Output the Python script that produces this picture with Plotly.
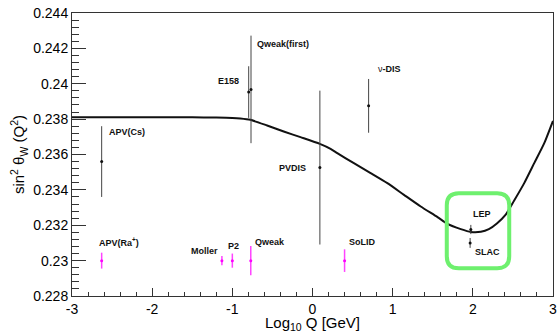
import plotly.graph_objects as go

# ---- running curve ----
curve_x = [-3.0, -2.5, -2.0, -1.5, -1.2, -1.0, -0.9, -0.775, -0.566, -0.359, -0.15,
           0.091, 0.225, 0.309, 0.516, 0.725, 0.934, 1.141, 1.35, 1.559, 1.684,
           1.85, 1.975, 2.1, 2.2, 2.3, 2.41, 2.516, 2.641, 2.766, 2.891, 3.0]
curve_y = [0.2381, 0.2381, 0.2381, 0.2381, 0.23809, 0.23807, 0.23804, 0.23796, 0.23764,
           0.23730, 0.23698, 0.23660, 0.23632, 0.23608, 0.23551, 0.23495, 0.23438,
           0.23372, 0.23306, 0.23246, 0.23208, 0.23178, 0.23162, 0.23163, 0.23178,
           0.23210, 0.23260, 0.23340, 0.23438, 0.23551, 0.23664, 0.23790]

# ---- existing measurements ----
meas_names = ["APV(Cs)", "E158", "Qweak(first)", "PVDIS", "ν-DIS", "LEP", "SLAC"]
meas_x = [-2.63, -0.796, -0.767, 0.092, 0.70, 1.975, 1.966]
meas_y = [0.2356, 0.23953, 0.23968, 0.23526, 0.23875, 0.23176, 0.23100]
meas_err = [0.0020, 0.00146, 0.00304, 0.00435, 0.00152, 0.00026, 0.00028]

# ---- future measurements ----
fut_names = ["APV(Ra+)", "Moller", "P2", "Qweak", "SoLID"]
fut_x = [-2.63, -1.13, -1.0, -0.77, 0.40]
fut_y = [0.23, 0.23, 0.23, 0.23, 0.23]
fut_err = [0.00045, 0.00026, 0.0004, 0.00083, 0.00064]

# ---- ticks ----
y_tickvals = [0.228, 0.230, 0.232, 0.234, 0.236, 0.238, 0.240, 0.242, 0.244]
y_ticktext = ["0.228", "0.23", "0.232", "0.234", "0.236", "0.238", "0.24", "0.242", "0.244"]
x_tickvals = [-3, -2, -1, 0, 1, 2, 3]
x_ticktext = ["-3", "-2", "-1", "0", "1", "2", "3"]

# label texts and anchor positions (layout)
label_text = ["<b>APV(Cs)</b>", "<b>E158</b>", "<b>Qweak(first)</b>", "<b>PVDIS</b>",
              "ν<b>-DIS</b>", "<b>LEP</b>", "<b>SLAC</b>",
              "<b>APV(Ra<sup>+</sup>)</b>", "<b>Moller</b>", "<b>P2</b>", "<b>Qweak</b>", "<b>SoLID</b>"]
label_pos = [(-2.5625, 0.2373), (-1.2, 0.24017), (-0.7125, 0.24226), (-0.4375, 0.23523),
             (0.7875, 0.24083), (1.975, 0.23264), (2.0, 0.23049),
             (-2.6875, 0.23107), (-1.5375, 0.23057), (-1.075, 0.23083), (-0.741, 0.23104), (0.434, 0.23107)]

FONT = "Liberation Sans, Arial, Helvetica, sans-serif"

fig = go.Figure()
fig.add_trace(go.Scatter(x=curve_x, y=curve_y, mode="lines",
                         line=dict(color="#111111", width=2, shape="spline", smoothing=0.6),
                         hoverinfo="skip", showlegend=False))
fig.add_trace(go.Scatter(x=meas_x, y=meas_y, mode="markers", text=meas_names,
                         marker=dict(color="#111111", size=3),
                         error_y=dict(type="data", array=meas_err, visible=True,
                                      thickness=1, width=0, color="#444444"),
                         showlegend=False))
fig.add_trace(go.Scatter(x=fut_x, y=fut_y, mode="markers", text=fut_names,
                         marker=dict(color="#ff00ff", size=3),
                         error_y=dict(type="data", array=fut_err, visible=True,
                                      thickness=1.5, width=0, color="#ff44ff"),
                         showlegend=False))

for t, (lx, ly) in zip(label_text, label_pos):
    fig.add_annotation(x=lx, y=ly, text=t, showarrow=False, xanchor="left", yanchor="middle",
                       font=dict(family=FONT, size=9, color="#111111"))

# rounded green box around LEP/SLAC
x0, x1, y0, y1 = 1.675, 2.454, 0.22957, 0.23381
rx, ry = 0.15, 0.00068
path = (f"M {x0+rx},{y1} L {x1-rx},{y1} Q {x1},{y1} {x1},{y1-ry} "
        f"L {x1},{y0+ry} Q {x1},{y0} {x1-rx},{y0} L {x0+rx},{y0} Q {x0},{y0} {x0},{y0+ry} "
        f"L {x0},{y1-ry} Q {x0},{y1} {x0+rx},{y1} Z")
fig.add_shape(type="path", path=path, xref="x", yref="y",
              line=dict(color="#6ef06e", width=4))

fig.update_layout(
    width=559, height=333,
    margin=dict(l=72, r=6, t=13, b=37),
    paper_bgcolor="white", plot_bgcolor="white",
    font=dict(family=FONT, size=14, color="black"),
    showlegend=False,
    xaxis=dict(range=[-3, 3], tickvals=x_tickvals, ticktext=x_ticktext,
               ticks="inside", ticklen=8, tickcolor="#333333",
               minor=dict(ticks="inside", ticklen=4, dtick=0.2, tick0=-3, tickcolor="#333333", showgrid=False),
               showgrid=False, zeroline=False, showline=True, linecolor="#333333", linewidth=1,
               mirror=True, automargin=False,
               tickfont=dict(size=14),
               title=dict(text="Log<sub>10</sub> Q [GeV]", font=dict(size=15), standoff=3)),
    yaxis=dict(range=[0.228, 0.244], tickvals=y_tickvals, ticktext=y_ticktext,
               ticks="inside", ticklen=14, tickcolor="#333333",
               minor=dict(ticks="inside", ticklen=7, dtick=0.0004, tick0=0.228, tickcolor="#333333", showgrid=False),
               showgrid=False, zeroline=False, showline=True, linecolor="#333333", linewidth=1,
               mirror=True, automargin=False,
               tickfont=dict(size=14),
               title=dict(text="sin<sup>2</sup> θ<sub>W</sub> (Q<sup>2</sup>)", font=dict(size=15), standoff=4)),
)

fig.write_html("out.html", config={"displayModeBar": False},
               post_script="document.body.style.margin='0';document.body.style.padding='0';document.documentElement.style.overflow='hidden';")
